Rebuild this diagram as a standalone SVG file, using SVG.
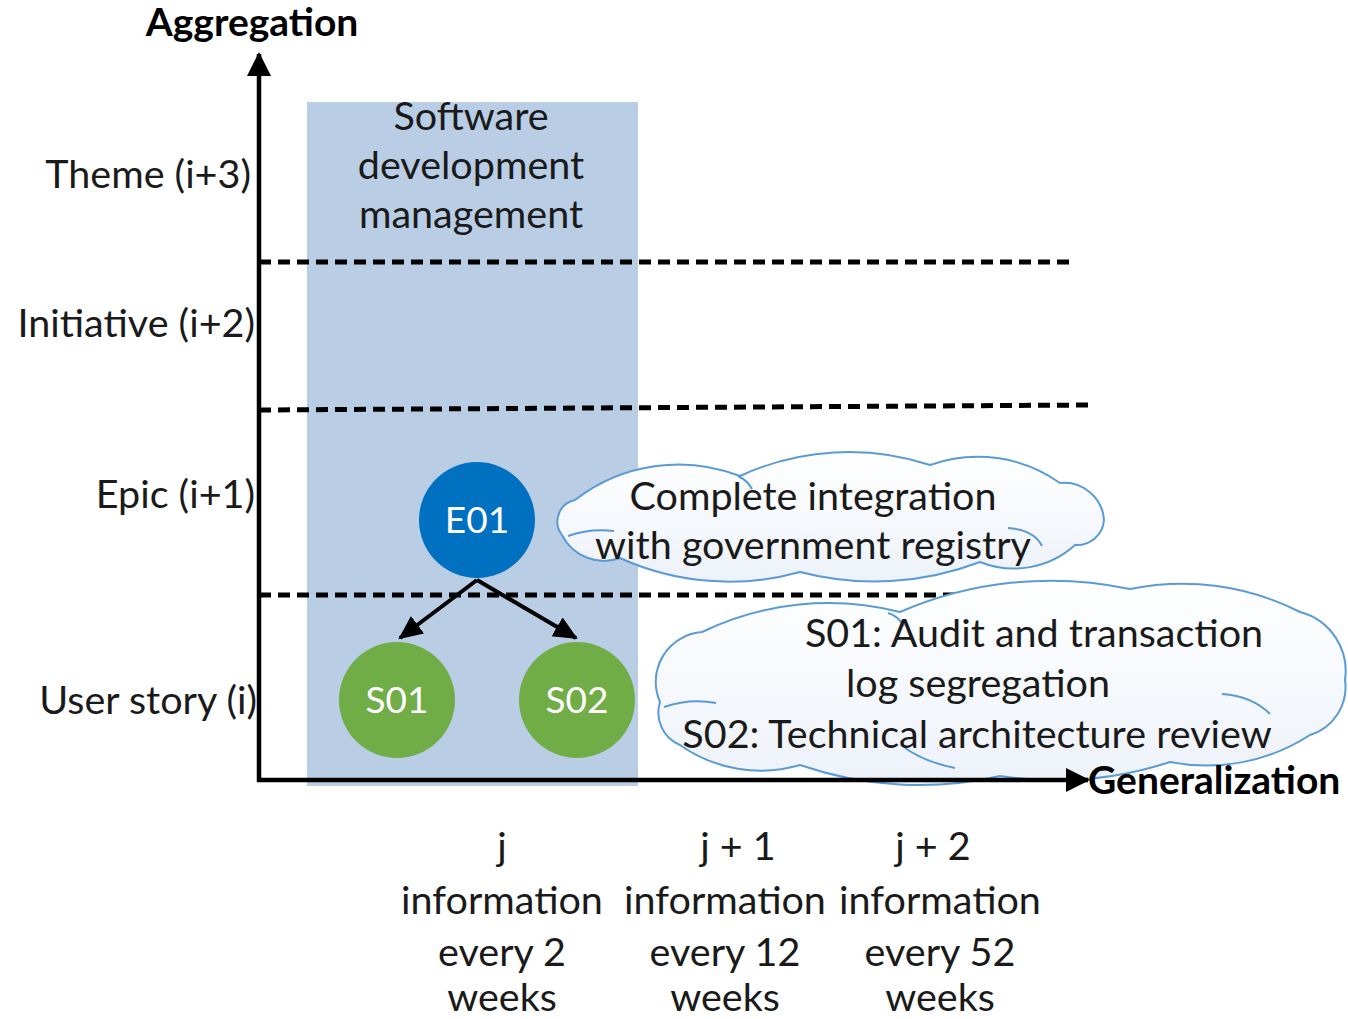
<svg xmlns="http://www.w3.org/2000/svg" width="1348" height="1019" viewBox="0 0 1348 1019">
<style>
.t{font-family:Lato,"Liberation Sans",sans-serif;font-size:39.5px;fill:#1a1a1a}
.b{font-family:Lato,"Liberation Sans",sans-serif;font-size:39px;font-weight:bold;fill:#000}
.w{font-family:Lato,"Liberation Sans",sans-serif;font-size:37px;fill:#fff}
.dash{stroke:#000;stroke-width:5;stroke-dasharray:12 7;fill:none}
.axis{stroke:#000;stroke-width:4.5;fill:none}
.conn{stroke:#000;stroke-width:4;fill:none}
.cloud{fill:url(#cg);stroke:#5b9bd5;stroke-width:2}
.inner{fill:none;stroke:#5b9bd5;stroke-width:2}
</style>
<defs>
<linearGradient id="cg" x1="0" y1="0" x2="0" y2="1">
<stop offset="0" stop-color="#ffffff"/>
<stop offset="1" stop-color="#edf2f9"/>
</linearGradient>
<marker id="ax" markerUnits="userSpaceOnUse" markerWidth="26" markerHeight="26" refX="22" refY="12" orient="auto">
<path d="M0,0 L24,12 L0,24 Z" fill="#000"/>
</marker>
<marker id="ar" markerUnits="userSpaceOnUse" markerWidth="26" markerHeight="26" refX="22" refY="11" orient="auto">
<path d="M0,0 L24,11 L0,22 Z" fill="#000"/>
</marker>
</defs>
<rect width="1348" height="1019" fill="#fff"/>

<g id="band">
<rect x="307" y="102" width="331" height="684" fill="#b9cde5"/>
<text class="t" text-anchor="middle" x="471" y="130">Software</text>
<text class="t" text-anchor="middle" x="471" y="179">development</text>
<text class="t" text-anchor="middle" x="471" y="228">management</text>
</g>

<g id="levels">
<line class="dash" x1="259" y1="262" x2="1070" y2="262"/>
<line class="dash" x1="259" y1="410" x2="1090" y2="405"/>
<line class="dash" x1="259" y1="595" x2="1060" y2="595"/>
</g>

<g id="connectors">
<line class="conn" x1="477" y1="580" x2="400" y2="638" marker-end="url(#ar)"/>
<line class="conn" x1="477" y1="580" x2="576" y2="638" marker-end="url(#ar)"/>
</g>

<g id="E01">
<circle cx="477" cy="520" r="58" fill="#0070c0"/>
<text class="w" text-anchor="middle" x="477" y="533">E01</text>
</g>
<g id="S01">
<circle cx="397" cy="700" r="58" fill="#70ad47"/>
<text class="w" text-anchor="middle" x="397" y="713">S01</text>
</g>
<g id="S02">
<circle cx="577" cy="700" r="58" fill="#70ad47"/>
<text class="w" text-anchor="middle" x="577" y="713">S02</text>
</g>

<g id="cloud1">
<path class="cloud" d="M562,535 A22,22 0 0 1 575,500 A169,169 0 0 1 740,476 A260,260 0 0 1 930,465 A142,142 0 0 1 1060,483 A40,40 0 0 1 1104,520 A27,27 0 0 1 1075,545 A91,91 0 0 1 980,562 A296,296 0 0 1 800,572 A264,264 0 0 1 620,558 A47,47 0 0 1 562,535 Z"/>
<path class="inner" d="M568,536 Q590,528 614,531"/>
<path class="inner" d="M1008,528 Q1034,530 1042,546"/>
<path class="inner" d="M738,476 Q748,481 752,489"/>
<text class="t" text-anchor="middle" x="813" y="510">Complete integration</text>
<text class="t" text-anchor="middle" x="813" y="559">with government registry</text>
</g>

<g id="cloud2">
<path class="cloud" d="M660,702 A50,50 0 0 1 702,632 A290,290 0 0 1 900,612 A380,380 0 0 1 1130,589 A260,260 0 0 1 1300,612 A61,61 0 0 1 1345,680 A50,50 0 0 1 1310,735 A190,190 0 0 1 1170,762 A370,370 0 0 1 1000,776 A364,364 0 0 1 800,765 A140,140 0 0 1 680,745 A35,35 0 0 1 660,702 Z"/>
<path class="inner" d="M664,707 Q690,698 716,703"/>
<path class="inner" d="M1222,694 Q1252,696 1270,714"/>
<path class="inner" d="M905,748 Q925,762 955,768"/>
<path class="inner" d="M888,613 Q898,616 904,626"/>
<text class="t" text-anchor="middle" x="1034" y="647">S01: Audit and transaction</text>
<text class="t" text-anchor="middle" x="978" y="697">log segregation</text>
<text class="t" text-anchor="middle" x="977" y="748">S02: Technical architecture review</text>
</g>

<g id="axes">
<line class="axis" x1="259" y1="782" x2="259" y2="54" marker-end="url(#ax)"/>
<line class="axis" x1="257" y1="780" x2="1088" y2="780" marker-end="url(#ax)"/>
<text class="b" text-anchor="middle" x="252" y="36">Aggregation</text>
<text class="b" x="1088" y="794">Generalization</text>
</g>

<g id="rowlabels">
<text class="t" text-anchor="end" x="251" y="188">Theme (i+3)</text>
<text class="t" text-anchor="end" x="255" y="337">Initiative (i+2)</text>
<text class="t" text-anchor="end" x="255" y="508">Epic (i+1)</text>
<text class="t" text-anchor="end" x="257" y="714">User story (i)</text>
</g>

<g id="collabels">
<text class="t" text-anchor="middle" x="502" y="860">j</text>
<text class="t" text-anchor="middle" x="502" y="914">information</text>
<text class="t" text-anchor="middle" x="502" y="966">every 2</text>
<text class="t" text-anchor="middle" x="502" y="1011">weeks</text>
<text class="t" text-anchor="middle" x="738" y="860">j + 1</text>
<text class="t" text-anchor="middle" x="725" y="914">information</text>
<text class="t" text-anchor="middle" x="725" y="966">every 12</text>
<text class="t" text-anchor="middle" x="725" y="1011">weeks</text>
<text class="t" text-anchor="middle" x="933" y="860">j + 2</text>
<text class="t" text-anchor="middle" x="940" y="914">information</text>
<text class="t" text-anchor="middle" x="940" y="966">every 52</text>
<text class="t" text-anchor="middle" x="940" y="1011">weeks</text>
</g>
</svg>
